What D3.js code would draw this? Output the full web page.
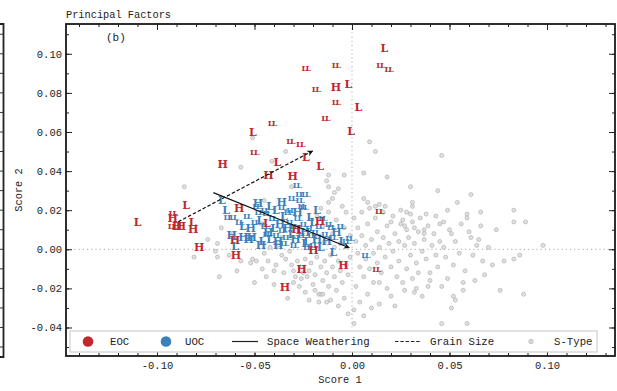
<!DOCTYPE html>
<html>
<head>
<meta charset="utf-8">
<script src="https://cdn.jsdelivr.net/npm/d3@7"></script>
<style>
  html, body { margin: 0; padding: 0; background: #fff; }
  svg { display: block; font-family: "Liberation Mono", "DejaVu Sans Mono", monospace; }
</style>
</head>
<body>
<svg id="chart" width="617" height="391"></svg>
<script>
// ---- data -------------------------------------------------------------
const xTicks = [-0.10, -0.05, 0.00, 0.05, 0.10];
const yTicks = [-0.04, -0.02, 0.00, 0.02, 0.04, 0.06, 0.08, 0.10];
const xTickLabels = ["-0.10", "-0.05", "0.00", "0.05", "0.10"];
const yTickLabels = ["-0.04", "-0.02", "0.00", "0.02", "0.04", "0.06", "0.08", "0.10"];

// equilibrated ordinary chondrites: [score1, score2, class]
const eocPoints = [
  [-0.110, 0.0141, "L"], [-0.0851, 0.0224, "L"], [-0.0921, 0.0185, "LL"],
  [-0.0919, 0.0160, "H"], [-0.0925, 0.0121, "LL"], [-0.0897, 0.0117, "H"],
  [-0.0877, 0.0119, "H"], [-0.0818, 0.0141, "L"], [-0.0814, 0.0106, "H"],
  [-0.0783, 0.0013, "H"], [-0.0663, 0.0436, "H"], [-0.0579, 0.0211, "H"],
  [-0.0600, 0.0045, "H"], [-0.0595, -0.0027, "H"], [-0.0509, 0.0600, "L"],
  [-0.0503, 0.0498, "LL"], [-0.0412, 0.0644, "LL"], [-0.0383, 0.0445, "L"],
  [-0.0429, 0.0378, "H"], [-0.0304, 0.0375, "H"], [-0.0318, 0.0554, "LL"],
  [-0.0267, 0.0540, "LL"], [-0.0236, 0.0470, "L"], [-0.0164, 0.0424, "L"],
  [-0.0138, 0.0673, "LL"], [-0.0005, 0.0607, "L"], [0.0032, 0.0729, "L"],
  [-0.0084, 0.0755, "LL"], [-0.0082, 0.0829, "H"], [-0.0019, 0.0844, "L"],
  [-0.0187, 0.0819, "LL"], [-0.0239, 0.0929, "LL"], [-0.0084, 0.0943, "LL"],
  [0.0166, 0.1028, "L"], [0.0144, 0.0943, "LL"], [0.0186, 0.0922, "LL"],
  [-0.0436, 0.0133, "L"], [-0.0285, 0.0104, "H"], [-0.0164, 0.0146, "H"],
  [-0.0198, -0.0004, "H"], [-0.0258, -0.0102, "H"], [-0.0344, -0.0194, "H"],
  [-0.0044, -0.0083, "H"], [0.0123, -0.0101, "LL"], [0.0138, 0.0196, "LL"]
];

// unequilibrated ordinary chondrites: [score1, score2, class]
const uocPoints = [
  [-0.0284, 0.0329, "LL"], [-0.0272, 0.0281, "LL"], [-0.0241, 0.0281, "LL"],
  [-0.0667, 0.0252, "L"], [-0.0646, 0.0201, "L"], [-0.0640, 0.0167, "LL"],
  [-0.0610, 0.0167, "LL"], [-0.0492, 0.0221, "LL"], [-0.0482, 0.0237, "H"],
  [-0.0441, 0.0186, "LL"], [-0.0361, 0.0218, "LL"], [-0.0318, 0.0201, "LL"],
  [-0.0250, 0.0215, "LL"], [-0.0215, 0.0164, "L"], [-0.0154, 0.0160, "LL"],
  [-0.0109, 0.0113, "LL"], [-0.0617, 0.0073, "H"], [-0.0557, 0.0061, "H"],
  [-0.0514, 0.0064, "H"], [-0.0600, 0.0017, "L"], [-0.0467, 0.0022, "H"],
  [-0.0378, 0.0022, "H"], [-0.0241, 0.0031, "L"], [-0.0232, 0.0013, "LL"],
  [-0.0096, -0.0012, "L"], [-0.0032, 0.0042, "LL"], [-0.0015, 0.0058, "LL"],
  [0.0067, -0.0029, "LL"],
  [-0.047, 0.015, "L"], [-0.045, 0.012, "LL"], [-0.043, 0.009, "H"],
  [-0.041, 0.016, "LL"], [-0.040, 0.011, "L"], [-0.039, 0.007, "LL"],
  [-0.037, 0.013, "H"], [-0.036, 0.010, "LL"], [-0.035, 0.017, "L"],
  [-0.034, 0.006, "LL"], [-0.033, 0.011, "H"], [-0.032, 0.014, "LL"],
  [-0.031, 0.008, "L"], [-0.030, 0.012, "LL"], [-0.029, 0.005, "H"],
  [-0.028, 0.016, "LL"], [-0.027, 0.010, "L"], [-0.026, 0.007, "LL"],
  [-0.025, 0.013, "LL"], [-0.024, 0.009, "H"], [-0.023, 0.004, "L"],
  [-0.022, 0.011, "LL"], [-0.021, 0.007, "LL"], [-0.020, 0.014, "L"],
  [-0.019, 0.009, "LL"], [-0.018, 0.005, "H"], [-0.017, 0.012, "LL"],
  [-0.042, 0.005, "L"], [-0.044, 0.008, "LL"], [-0.038, 0.004, "H"],
  [-0.035, 0.003, "LL"], [-0.046, 0.004, "L"], [-0.030, 0.002, "LL"],
  [-0.028, 0.019, "H"], [-0.033, 0.019, "LL"], [-0.039, 0.020, "L"],
  [-0.048, 0.019, "LL"], [-0.050, 0.014, "LL"], [-0.052, 0.011, "H"],
  [-0.054, 0.017, "LL"], [-0.056, 0.012, "L"], [-0.058, 0.014, "LL"],
  [-0.053, 0.005, "H"], [-0.026, 0.022, "LL"], [-0.018, 0.020, "L"],
  [-0.014, 0.008, "LL"], [-0.013, 0.004, "H"], [-0.012, 0.013, "LL"],
  [-0.016, 0.001, "L"], [-0.020, 0.002, "LL"], [-0.010, 0.006, "LL"],
  [-0.008, 0.009, "H"], [-0.006, 0.012, "LL"], [-0.005, 0.004, "L"],
  [-0.027, 0.025, "LL"], [-0.031, 0.026, "LL"], [-0.042, 0.022, "L"],
  [-0.036, 0.024, "H"], [-0.045, 0.020, "LL"]
];

// S-type asteroid spectra: [score1, score2]
const sTypePoints = [
  [-0.086, 0.032], [-0.081, -0.004], [-0.069, -0.004], [-0.068, -0.014], [-0.069, 0.003],
  [-0.070, -0.001], [-0.067, 0.011], [-0.057, 0.042], [-0.051, 0.057], [-0.041, 0.045],
  [-0.034, 0.050], [-0.031, 0.032], [-0.059, -0.011], [-0.057, -0.006], [-0.052, -0.007],
  [-0.050, -0.017], [-0.051, -0.005], [-0.049, -0.006], [-0.046, -0.010], [-0.045, -0.002],
  [-0.040, -0.011], [-0.040, -0.018], [-0.043, -0.006], [-0.039, -0.008], [-0.036, -0.003],
  [-0.034, -0.005], [-0.031, -0.008], [-0.030, -0.011], [-0.033, -0.025], [-0.023, -0.014],
  [-0.020, -0.018], [-0.024, -0.022], [-0.017, -0.023], [-0.035, -0.012], [-0.044, -0.014],
  [-0.030, -0.017], [-0.042, 0.001], [-0.026, -0.015], [-0.046, 0.013], [-0.045, 0.025],
  [-0.074, 0.005], [-0.063, -0.003], [-0.061, 0.008],
  [0.009, 0.055], [0.012, 0.050], [0.046, 0.048], [0.006, 0.039], [0.018, 0.037],
  [-0.004, 0.038], [-0.012, 0.038], [-0.013, 0.035], [0.030, 0.032], [0.044, 0.030],
  [-0.012, 0.032], [-0.009, 0.029], [-0.007, 0.031], [0.006, 0.026], [-0.010, 0.026],
  [-0.012, 0.024], [0.008, 0.024], [0.031, 0.024], [0.031, 0.022], [0.014, 0.023],
  [0.038, 0.018], [0.043, 0.017], [0.047, 0.014], [0.059, 0.018], [0.059, 0.016],
  [0.066, 0.019], [0.066, 0.012], [0.083, 0.020], [0.083, 0.014], [0.089, 0.014],
  [0.030, 0.018], [0.020, 0.014], [0.025, 0.013], [0.027, 0.012], [0.028, 0.010],
  [0.032, 0.011], [0.037, 0.010], [0.037, 0.008], [0.051, 0.008], [0.045, 0.013],
  [0.061, 0.006], [0.064, 0.002], [0.078, -0.006], [0.083, -0.005], [0.086, -0.003],
  [0.098, 0.002], [0.067, -0.006], [0.068, -0.013], [0.049, -0.015], [0.076, -0.021],
  [0.088, -0.023], [0.057, -0.021], [0.052, -0.024], [0.053, -0.026], [0.051, -0.030],
  [0.033, -0.020], [0.032, -0.022], [0.039, -0.019], [0.046, -0.038], [0.059, -0.038],
  [0.014, -0.028], [0.001, -0.038], [-0.016, -0.023], [-0.015, -0.023],
  [-0.028, -0.006], [-0.026, -0.009], [-0.024, -0.005], [-0.022, -0.011], [-0.021, -0.007],
  [-0.019, -0.013], [-0.018, -0.004], [-0.016, -0.009], [-0.015, -0.016], [-0.014, -0.006],
  [-0.013, -0.012], [-0.012, -0.019], [-0.011, -0.003], [-0.010, -0.009], [-0.009, -0.014],
  [-0.008, -0.021], [-0.007, -0.006], [-0.006, -0.011], [-0.005, -0.017], [-0.004, -0.025],
  [-0.003, -0.008], [-0.002, -0.013], [-0.001, -0.004], [-0.027, -0.019], [-0.022, -0.026],
  [-0.019, -0.021], [-0.011, -0.026], [-0.007, -0.029], [-0.013, -0.027], [-0.029, -0.014],
  [-0.025, -0.012], [-0.017, -0.027],
  [-0.018, 0.017], [-0.015, 0.012], [-0.012, 0.019], [-0.010, 0.008], [-0.008, 0.015],
  [-0.006, 0.003], [-0.004, 0.011], [-0.003, 0.019], [-0.001, 0.007], [-0.014, 0.004],
  [-0.019, 0.006], [-0.009, 0.001], [-0.005, 0.022], [-0.016, 0.021],
  [0.001, 0.016], [0.002, 0.004], [0.003, -0.002], [0.003, 0.011], [0.004, -0.009],
  [0.005, 0.019], [0.005, 0.007], [0.006, -0.014], [0.007, 0.002], [0.007, -0.005],
  [0.008, 0.013], [0.009, -0.010], [0.009, 0.021], [0.010, 0.005], [0.011, -0.002],
  [0.011, -0.017], [0.012, 0.016], [0.013, 0.009], [0.013, -0.007], [0.014, 0.001],
  [0.015, -0.012], [0.016, 0.019], [0.016, 0.006], [0.017, -0.004], [0.018, -0.020],
  [0.018, 0.012], [0.019, 0.003], [0.020, -0.009], [0.021, 0.017], [0.021, -0.001],
  [0.022, 0.008], [0.023, -0.014], [0.024, 0.004], [0.024, -0.006], [0.025, 0.020],
  [0.026, -0.017], [0.026, 0.015], [0.027, 0.002], [0.028, -0.010], [0.029, 0.006],
  [0.030, -0.003], [0.031, 0.014], [0.031, -0.015], [0.032, 0.003], [0.033, -0.007],
  [0.034, 0.009], [0.034, -0.012], [0.035, 0.016], [0.036, -0.001], [0.037, 0.005],
  [0.038, -0.005], [0.039, 0.012], [0.040, -0.012], [0.041, 0.002], [0.042, 0.008],
  [0.043, -0.003], [0.044, -0.009], [0.045, 0.004], [0.002, -0.019], [0.008, -0.023],
  [0.014, -0.017], [0.020, -0.024], [0.027, -0.021], [0.004, -0.027], [0.010, -0.030],
  [0.022, -0.029], [0.036, -0.024], [0.040, -0.016], [0.017, 0.022], [0.028, 0.019],
  [0.012, 0.022], [0.001, -0.031], [0.006, -0.034], [-0.002, -0.033],
  [0.047, 0.001], [0.048, -0.004], [0.050, 0.010], [0.052, -0.008], [0.053, 0.004],
  [0.055, -0.002], [0.056, 0.013], [0.058, -0.011], [0.060, 0.009], [0.062, -0.003],
  [0.063, -0.016], [0.065, 0.005], [0.070, 0.001], [0.072, -0.008], [0.074, 0.010],
  [0.049, 0.020], [0.054, 0.024], [0.057, -0.017], [0.046, -0.019], [0.061, 0.028],
  [-0.038, 0.002], [-0.032, -0.001], [-0.036, 0.006]
];

// principal-factor directions: [start, end]
const spaceWeathering = [[-0.0711, 0.0290], [-0.0014, 0.0008]];
const grainSize = [[-0.0891, 0.0141], [-0.0202, 0.0503]];

const legendLabels = ["EOC", "UOC", "Space Weathering", "Grain Size", "S-Type"];

// ---- layout -----------------------------------------------------------
const plot = { left: 66, right: 615, top: 24, bottom: 356 };
const RED = "#c1272d", BLUE = "#3d7fbb";

const svg = d3.select("#chart");

const x = d3.scaleLinear().domain([-0.14667, 0.13487]).range([plot.left, plot.right]);
const y = d3.scaleLinear().domain([-0.05458, 0.11524]).range([plot.bottom, plot.top]);

// partial frame of the neighbouring panel at the far left
svg.append("path")
  .attr("d", `M0,${plot.top}H3.5V${plot.bottom + 1}H0`)
  .attr("fill", "none").attr("stroke", "#222").attr("stroke-width", 1.8);
svg.append("g").selectAll("line")
  .data(d3.range(-0.05, 0.115, 0.01))
  .join("line")
  .attr("x1", 0).attr("x2", 3)
  .attr("y1", d => y(d)).attr("y2", d => y(d))
  .attr("stroke", "#333").attr("stroke-width", 1);

// clip for the data region
svg.append("clipPath").attr("id", "plotClip")
  .append("rect")
  .attr("x", plot.left).attr("y", plot.top)
  .attr("width", plot.right - plot.left).attr("height", plot.bottom - plot.top);

const g = svg.append("g").attr("clip-path", "url(#plotClip)");

// zero reference lines
g.append("line")
  .attr("x1", x(0)).attr("x2", x(0)).attr("y1", plot.top).attr("y2", plot.bottom)
  .attr("stroke", "#b8b8b8").attr("stroke-width", 1.2).attr("stroke-dasharray", "1.2,3");
g.append("line")
  .attr("x1", plot.left).attr("x2", plot.right).attr("y1", y(0)).attr("y2", y(0))
  .attr("stroke", "#b8b8b8").attr("stroke-width", 1.2).attr("stroke-dasharray", "1.2,3");

// S-type cloud
g.append("g").selectAll("circle")
  .data(sTypePoints)
  .join("circle")
  .attr("cx", d => x(d[0])).attr("cy", d => y(d[1]))
  .attr("r", 2)
  .attr("fill", "#dadada").attr("fill-opacity", 0.8)
  .attr("stroke", "#b0b0b0").attr("stroke-width", 0.7);

// class letters
function drawLetters(data, color) {
  g.append("g").selectAll("text")
    .data(data)
    .join("text")
    .attr("x", d => x(d[0])).attr("y", d => y(d[1]))
    .attr("dy", "0.36em")
    .attr("text-anchor", "middle")
    .attr("fill", color)
    .attr("font-family", "DejaVu Serif, Liberation Serif, serif")
    .attr("font-weight", "bold")
    .attr("font-size", d => d[2] === "LL" ? 8 : 11)
    .attr("letter-spacing", d => d[2] === "LL" ? -1.8 : 0)
    .text(d => d[2]);
}
drawLetters(uocPoints, BLUE);
drawLetters(eocPoints, RED);

// arrowheads
const defs = svg.append("defs");
defs.append("marker")
  .attr("id", "arrowHead")
  .attr("viewBox", "0 0 10 10")
  .attr("refX", 9).attr("refY", 5)
  .attr("markerWidth", 8).attr("markerHeight", 6)
  .attr("markerUnits", "userSpaceOnUse")
  .attr("orient", "auto")
  .append("path")
  .attr("d", "M0,0L10,5L0,10L3,5Z")
  .attr("fill", "#111");

const line = d3.line().x(d => x(d[0])).y(d => y(d[1]));
g.append("path").datum(spaceWeathering)
  .attr("d", line).attr("fill", "none")
  .attr("stroke", "#111").attr("stroke-width", 1.2)
  .attr("marker-end", "url(#arrowHead)");
g.append("path").datum(grainSize)
  .attr("d", line).attr("fill", "none")
  .attr("stroke", "#111").attr("stroke-width", 1.2)
  .attr("stroke-dasharray", "3.5,2")
  .attr("marker-end", "url(#arrowHead)");

// ---- axes -------------------------------------------------------------
const fontSize = 10.5;
function styleAxis(sel) {
  sel.select(".domain").remove();
  sel.selectAll(".tick line").attr("stroke", "#222").attr("stroke-width", 1);
  sel.selectAll("text").attr("fill", "#222").attr("font-size", fontSize)
    .attr("font-family", "Liberation Mono, DejaVu Sans Mono, monospace");
}

const xMinor = d3.range(-0.14, 0.135, 0.01).map(v => +v.toFixed(2));
const yMinor = d3.range(-0.05, 0.115, 0.01).map(v => +v.toFixed(2));

// bottom
svg.append("g").attr("transform", `translate(0,${plot.bottom})`)
  .call(d3.axisBottom(x).tickValues(xMinor).tickSize(-3).tickFormat(""))
  .call(styleAxis);
svg.append("g").attr("transform", `translate(0,${plot.bottom})`)
  .call(d3.axisBottom(x).tickValues(xTicks).tickSize(-6).tickPadding(5.5)
    .tickFormat((d, i) => xTickLabels[i]))
  .call(styleAxis);
// top
svg.append("g").attr("transform", `translate(0,${plot.top})`)
  .call(d3.axisTop(x).tickValues(xMinor).tickSize(-3).tickFormat(""))
  .call(styleAxis);
svg.append("g").attr("transform", `translate(0,${plot.top})`)
  .call(d3.axisTop(x).tickValues(xTicks).tickSize(-6).tickFormat(""))
  .call(styleAxis);
// left
svg.append("g").attr("transform", `translate(${plot.left},0)`)
  .call(d3.axisLeft(y).tickValues(yMinor).tickSize(-3).tickFormat(""))
  .call(styleAxis);
svg.append("g").attr("transform", `translate(${plot.left},0)`)
  .call(d3.axisLeft(y).tickValues(yTicks).tickSize(-6).tickPadding(4)
    .tickFormat((d, i) => yTickLabels[i]))
  .call(styleAxis);
// right
svg.append("g").attr("transform", `translate(${plot.right},0)`)
  .call(d3.axisRight(y).tickValues(yMinor).tickSize(-3).tickFormat(""))
  .call(styleAxis);
svg.append("g").attr("transform", `translate(${plot.right},0)`)
  .call(d3.axisRight(y).tickValues(yTicks).tickSize(-6).tickFormat(""))
  .call(styleAxis);

// frame
svg.append("rect")
  .attr("x", plot.left).attr("y", plot.top)
  .attr("width", plot.right - plot.left).attr("height", plot.bottom - plot.top)
  .attr("fill", "none").attr("stroke", "#1a1a1a").attr("stroke-width", 1.8);

// ---- legend -----------------------------------------------------------
const legend = svg.append("g");
legend.append("rect")
  .attr("x", 70).attr("y", 331).attr("width", 527).attr("height", 21)
  .attr("fill", "#fff").attr("stroke", "#cfcfcf").attr("stroke-width", 1.2);
const ly = 341.5;
legend.append("circle").attr("cx", 88).attr("cy", ly).attr("r", 5.3).attr("fill", RED);
legend.append("circle").attr("cx", 166).attr("cy", ly).attr("r", 5.3).attr("fill", BLUE);
legend.append("line").attr("x1", 232).attr("x2", 258).attr("y1", ly).attr("y2", ly)
  .attr("stroke", "#222").attr("stroke-width", 1.2);
legend.append("line").attr("x1", 395).attr("x2", 420).attr("y1", ly).attr("y2", ly)
  .attr("stroke", "#222").attr("stroke-width", 1.2).attr("stroke-dasharray", "3.5,1.8");
legend.append("circle").attr("cx", 531).attr("cy", ly).attr("r", 2.2)
  .attr("fill", "#dadada").attr("stroke", "#b0b0b0").attr("stroke-width", 0.7);
const legendX = [110, 185, 267, 430, 554];
legend.selectAll("text.lab")
  .data(legendLabels)
  .join("text")
  .attr("class", "lab")
  .attr("x", (d, i) => legendX[i]).attr("y", ly).attr("dy", "0.35em")
  .attr("font-size", 10.7).attr("fill", "#222")
  .text(d => d);

// ---- titles -----------------------------------------------------------
svg.append("text").attr("x", 66).attr("y", 14.5).attr("dy", "0.35em")
  .attr("font-size", 10.3).attr("fill", "#222").text("Principal Factors");
svg.append("text").attr("x", 106).attr("y", 37).attr("dy", "0.35em")
  .attr("font-size", 11).attr("fill", "#222").text("(b)");
svg.append("text").attr("x", 340).attr("y", 379.5).attr("dy", "0.35em")
  .attr("text-anchor", "middle").attr("font-size", 10.3).attr("fill", "#222").text("Score 1");
svg.append("text")
  .attr("transform", "translate(18,190) rotate(-90)")
  .attr("dy", "0.35em").attr("text-anchor", "middle")
  .attr("font-size", 10.3).attr("fill", "#222").text("Score 2");
</script>
</body>
</html>
